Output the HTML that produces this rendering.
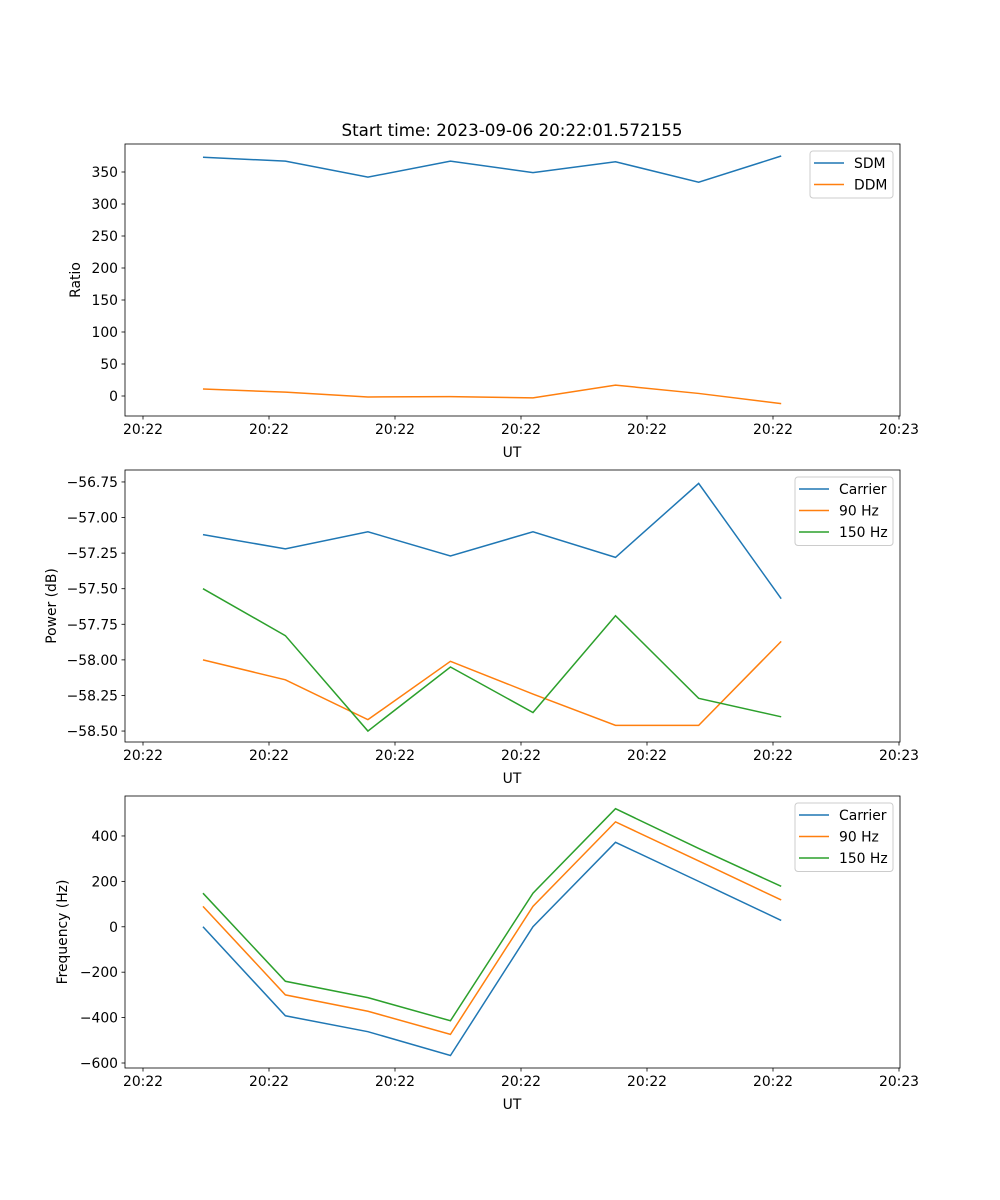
<!DOCTYPE html>
<html><head><meta charset="utf-8"><style>
body{margin:0;background:#fff}
svg{display:block;font-family:"DejaVu Sans","Liberation Sans",sans-serif}
</style></head><body>
<svg id="fig" width="1000" height="1200" viewBox="0 0 1000 1200">
<rect width="1000" height="1200" fill="#fff"/>
<text x="512" y="136" text-anchor="middle" font-size="16.7">Start time: 2023-09-06 20:22:01.572155</text>
</svg>
<script>
const times=[4.76,11.3,17.85,24.4,30.95,37.5,44.1,50.65];
const xTicks=[0,10,20,30,40,50,60];
const xTickLabels=["20:22","20:22","20:22","20:22","20:22","20:22","20:23"];
const sdm=[373,367,342,367,349,366,334,375];
const ddm=[11,6,-1.5,-1,-3,17,4,-12];
const ratioTicks=[0,50,100,150,200,250,300,350];
const powCarrier=[-57.12,-57.22,-57.1,-57.27,-57.1,-57.28,-56.76,-57.57];
const pow90=[-58.0,-58.14,-58.42,-58.01,-58.24,-58.46,-58.46,-57.87];
const pow150=[-57.5,-57.83,-58.5,-58.05,-58.37,-57.69,-58.27,-58.4];
const powTicks=[-58.5,-58.25,-58.0,-57.75,-57.5,-57.25,-57.0,-56.75];
const freqCarrier=[0,-392,-462,-567,0,372,200,28];
const freq90=[90,-300,-372,-474,90,462,290,118];
const freq150=[148,-240,-312,-414,148,520,345,178];
const freqTicks=[-600,-400,-200,0,200,400];

const NS="http://www.w3.org/2000/svg";
const svg=document.getElementById('fig');
function mk(tag,attrs,parent){const e=document.createElementNS(NS,tag);for(const k in attrs)e.setAttribute(k,attrs[k]);(parent||svg).appendChild(e);return e;}
const L=125,R=900;
const xs=t=>143+t*12.6;
const C={b:'#1f77b4',o:'#ff7f0e',g:'#2ca02c'};
const FS=13.9;

function panel(name,top,bot,ymin,ymax,yTicks,fmt,ylabel,series,legend){
  const g=mk('g',{});
  
  
  const ys=v=>bot-(v-ymin)/(ymax-ymin)*(bot-top);
  series.forEach(s=>{
    const p=mk('polyline',{points:s.vals.map((v,i)=>xs(times[i])+','+ys(v)).join(' '),fill:'none',stroke:s.c,'stroke-width':1.5},g);
    
    
  });
  const fr=mk('rect',{x:L,y:top,width:R-L,height:bot-top,fill:'none',stroke:'#000','stroke-width':0.8},g);
  
  
  xTicks.forEach((t,i)=>{
    const x=xs(t);
    mk('line',{x1:x,x2:x,y1:bot,y2:bot+3.5,stroke:'#000','stroke-width':0.8},g);
    const tx=mk('text',{x:x,y:bot+18,'text-anchor':'middle','font-size':FS},g);
    tx.textContent=xTickLabels[i];
    
    
  });
  yTicks.forEach(v=>{
    const y=ys(v);
    mk('line',{x1:L-3.5,x2:L,y1:y,y2:y,stroke:'#000','stroke-width':0.8},g);
    const tx=mk('text',{x:L-7,y:y+5,'text-anchor':'end','font-size':FS},g);
    tx.textContent=fmt(v);
    
    
  });
  const xl=mk('text',{x:512,y:bot+41,'text-anchor':'middle','font-size':FS},g);
  xl.textContent='UT';
  
  
  const yl=mk('text',{x:0,y:0,'text-anchor':'middle','font-size':FS,transform:`translate(${legend.ylx},${(top+bot)/2}) rotate(-90)`},g);
  yl.textContent=ylabel;
  
  
  const lg=mk('g',{},g);
  
  
  mk('rect',{x:legend.x,y:top+7,width:R-7-legend.x,height:series.length*21.5+4,rx:3,fill:'#fff','fill-opacity':0.8,stroke:'#ccc'},lg);
  series.forEach((s,i)=>{
    const y=top+19+i*21.5;
    mk('line',{x1:legend.x+4,x2:legend.x+34,y1:y,y2:y,stroke:s.c,'stroke-width':1.5},lg);
    const t=mk('text',{x:legend.x+44,y:y+5,'font-size':FS},lg);
    t.textContent=s.id;
    
    
  });
}
panel('ratio',144,416,-31.25,393.75,ratioTicks,v=>String(v),'Ratio',
  [{id:'SDM',vals:sdm,c:C.b},{id:'DDM',vals:ddm,c:C.o}],{x:810,ylx:80});
panel('power',470,742,-58.577,-56.666,powTicks,v=>(v<0?'\u2212':'')+Math.abs(v).toFixed(2),'Power (dB)',
  [{id:'Carrier',vals:powCarrier,c:C.b},{id:'90 Hz',vals:pow90,c:C.o},{id:'150 Hz',vals:pow150,c:C.g}],{x:795,ylx:56});
panel('frequency',796,1068,-622,576,freqTicks,v=>(v<0?'\u2212':'')+Math.abs(v),'Frequency (Hz)',
  [{id:'Carrier',vals:freqCarrier,c:C.b},{id:'90 Hz',vals:freq90,c:C.o},{id:'150 Hz',vals:freq150,c:C.g}],{x:795,ylx:67});
</script>
</body></html>
